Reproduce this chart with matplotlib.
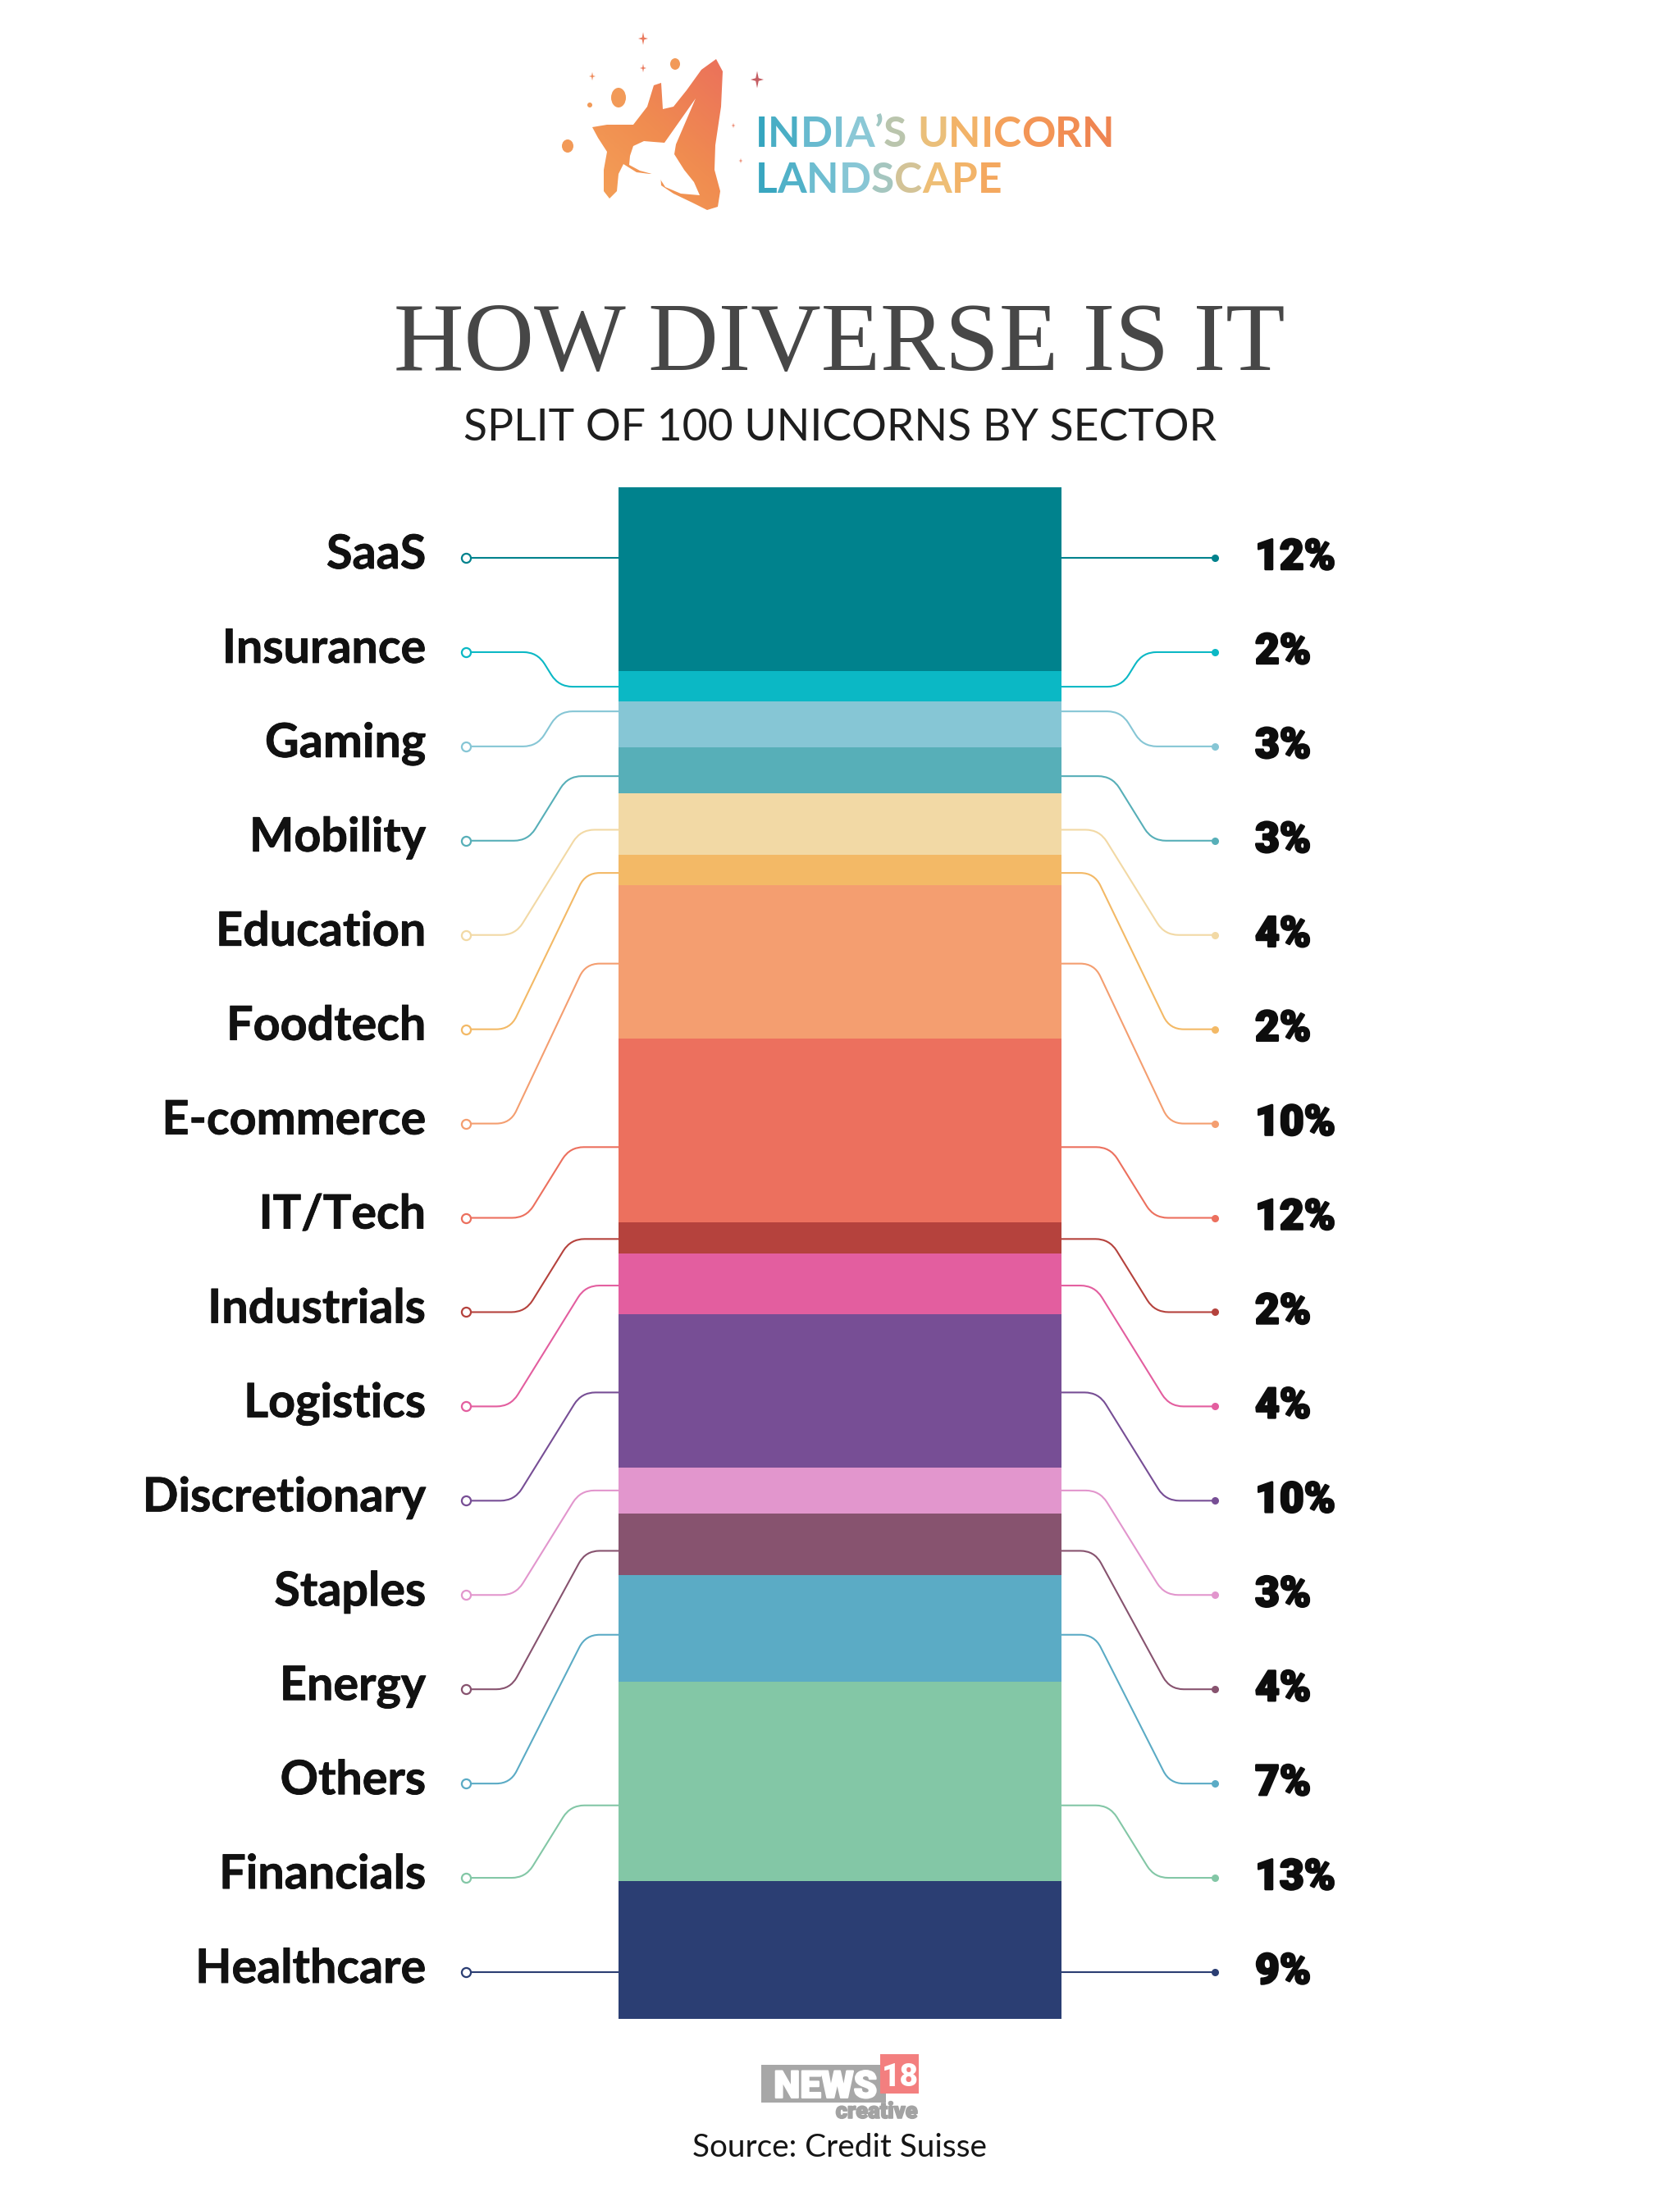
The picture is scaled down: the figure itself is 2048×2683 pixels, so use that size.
import numpy as np
import matplotlib
matplotlib.use("Agg")
import matplotlib.pyplot as plt
import matplotlib.patheffects as pe
from matplotlib.path import Path
from matplotlib.patches import PathPatch, Rectangle, Polygon, Ellipse
from matplotlib.colors import LinearSegmentedColormap, to_rgb

# ---------------- data ----------------
sectors = ["SaaS", "Insurance", "Gaming", "Mobility", "Education", "Foodtech",
           "E-commerce", "IT/Tech", "Industrials", "Logistics", "Discretionary",
           "Staples", "Energy", "Others", "Financials", "Healthcare"]
shares = [12, 2, 3, 3, 4, 2, 10, 12, 2, 4, 10, 3, 4, 7, 13, 9]
colors = ["#00828D", "#0BB8C5", "#86C6D5", "#57AFB8", "#F2D9A5", "#F3B966",
          "#F49E70", "#EC705E", "#B5423D", "#E35E9F", "#774E95", "#E296CD",
          "#87536F", "#5BABC5", "#83C7A6", "#2B3E73"]
pct_labels = [f"{v}%" for v in shares]

title = "HOW DIVERSE IS IT"
subtitle = "SPLIT OF 100 UNICORNS BY SECTOR"
brand_line1 = "INDIA\u2019S UNICORN"
brand_line2 = "LANDSCAPE"
source = "Source: Credit Suisse"

# ---------------- layout (pixels) ----------------
W, H, DPI = 2048, 2683, 100
BAR_L, BAR_R, BAR_T, BAR_B = 754, 1294, 594, 2461
DOT_L, DOT_R = 568, 1481
LAB_X, PCT_X = 519, 1529
ROW_FIRST, ROW_LAST = 680, 2404
CX_L, CX_R = 668, 1380
# where each connector meets its segment (fraction of segment height)
anchor_frac = [0.384, 0.51, 0.21, 0.62, 0.59, 0.59, 0.51, 0.59, 0.54, 0.53,
               0.51, 0.50, 0.61, 0.56, 0.62, 0.66]

fig = plt.figure(figsize=(W / DPI, H / DPI), dpi=DPI)
fig.patch.set_facecolor("white")
ax = fig.add_axes([0, 0, 1, 1])
ax.set_xlim(0, W)
ax.set_ylim(H, 0)
ax.axis("off")
renderer = fig.canvas.get_renderer()

axb = fig.add_axes([BAR_L / W, 1 - BAR_B / H, (BAR_R - BAR_L) / W, (BAR_B - BAR_T) / H])
axb.set_xlim(0, 1)
axb.set_ylim(sum(shares), 0)
axb.axis("off")
axb.patch.set_alpha(0)
bottoms = np.concatenate([[0], np.cumsum(shares)[:-1]])
axb.bar(0.5, shares, bottom=bottoms, width=1.0, color=colors,
        edgecolor="none", align="center")


def text_width(s, size, **kw):
    t = ax.text(0, 0, s, fontsize=size, **kw)
    w = t.get_window_extent(renderer).width
    t.remove()
    return w


def fit_size(s, target, **kw):
    return 50.0 * target / text_width(s, 50, **kw)


def bar_y_to_px(v):
    disp = axb.transData.transform((0.5, v))
    return ax.transData.inverted().transform(disp)[1]


def rounded_path(pts, r):
    pts = [np.asarray(p, float) for p in pts]
    verts = [pts[0]]
    codes = [Path.MOVETO]
    for i in range(1, len(pts) - 1):
        p0, p, p1 = pts[i - 1], pts[i], pts[i + 1]
        d1 = p - p0
        l1 = np.hypot(*d1)
        d2 = p1 - p
        l2 = np.hypot(*d2)
        rr = min(r, 0.45 * l1, 0.45 * l2)
        a = p - d1 / l1 * rr
        b = p + d2 / l2 * rr
        verts += [a, p, b]
        codes += [Path.LINETO, Path.CURVE3, Path.CURVE3]
    verts.append(pts[-1])
    codes.append(Path.LINETO)
    return Path(verts, codes)


def connector(xd, yd, xb, yb, cx, color):
    dy = yb - yd
    if abs(dy) < 3:
        ax.plot([xd, xb], [yd, yd], color=color, lw=1.5, solid_capstyle="butt", zorder=2)
        return
    w = min(max(0.62 * abs(dy), 24), 92)
    s = np.sign(xb - xd)
    c1 = (cx - s * w / 2, yd)
    c2 = (cx + s * w / 2, yb)
    path = rounded_path([(xd, yd), c1, c2, (xb, yb)], 17)
    ax.add_patch(PathPatch(path, facecolor="none", edgecolor=color, lw=1.5, zorder=2))


rows = np.linspace(ROW_FIRST, ROW_LAST, len(sectors))
lab_size = fit_size("Insurance", 249, family="Lato", weight="bold")
pct_size = fit_size("12%", 98, family="Roboto", weight="black")
heavy = [pe.withStroke(linewidth=1.8, foreground="#0d0d0d")]

for i, (name, val, col) in enumerate(zip(sectors, shares, colors)):
    ly = rows[i]
    yb = bar_y_to_px(bottoms[i] + anchor_frac[i] * val)
    if abs(yb - ly) < 3:
        yb = ly
    connector(DOT_L, ly, BAR_L, yb, CX_L, col)
    connector(DOT_R, ly, BAR_R, yb, CX_R, col)
    ax.plot([DOT_L], [ly], marker="o", ms=8, mfc="white", mec=col, mew=1.6, zorder=3)
    ax.plot([DOT_R], [ly], marker="o", ms=6.5, mfc=col, mec=col, mew=0, zorder=3)
    ax.text(LAB_X, ly + 13, name, ha="right", va="baseline", fontsize=lab_size,
            family="Lato", weight="bold", color="#111111",
            path_effects=[pe.withStroke(linewidth=0.6, foreground="#111111")])
    ax.text(PCT_X + 1, ly + 14, pct_labels[i], ha="left", va="baseline", fontsize=pct_size,
            family="Roboto", weight="black", color="#0d0d0d", path_effects=heavy)

# ---------------- titles ----------------
ts = fit_size(title, 1087, family="Liberation Serif")
ax.text(1023, 451, title, ha="center", va="baseline", fontsize=ts,
        family="Liberation Serif", color="#474747")
ss = fit_size(subtitle, 920, family="Lato")
ax.text(1024, 537, subtitle, ha="center", va="baseline", fontsize=ss,
        family="Lato", color="#1e1e1e")

# ---------------- brand text with gradient ----------------
grad_x = [921, 1000, 1050, 1080, 1110, 1145, 1200, 1260, 1360]
grad_c = ["#2FA2BD", "#6CBCD0", "#8CC8D6", "#A9C6BC", "#D7C393", "#F0BE72",
          "#F4AA60", "#F39656", "#EE8050"]
grad_rgb = np.array([to_rgb(c) for c in grad_c])


def grad_color(x):
    return tuple(np.interp(x, grad_x, grad_rgb[:, k]) for k in range(3))


BFONT = dict(family="Lato", weight="bold")
bs = fit_size(brand_line1, 439, **BFONT)


def gradient_text(s, x0, y0):
    bar_w = text_width("|", bs, **BFONT)
    for k, ch in enumerate(s):
        if ch == " ":
            continue
        xl = x0 + (text_width(s[:k] + "|", bs, **BFONT) - bar_w if k > 0 else 0)
        cw = text_width(ch, bs, **BFONT)
        ax.text(xl, y0, ch, ha="left", va="baseline", fontsize=bs,
                color=grad_color(xl + cw / 2), **BFONT)


gradient_text(brand_line1, 921, 179)
gradient_text(brand_line2, 921, 235)

# ---------------- splash logo ----------------
splash = [(722, 155), (740, 152), (772, 152), (789, 130), (797, 104), (806, 101),
          (808, 133), (821, 130), (837, 110), (855, 85), (873, 72), (881, 87),
          (879, 130), (872, 177), (871, 207), (878, 233), (875, 252), (862, 256),
          (844, 247), (821, 236), (806, 226), (805, 210), (792, 212), (776, 210),
          (760, 200), (754, 212), (752, 233), (743, 242), (736, 233), (736, 207),
          (740, 185), (729, 168)]
sp = Polygon(splash, closed=True, facecolor="none", edgecolor="none")
ax.add_patch(sp)
gx, gy = np.meshgrid(np.linspace(0, 1, 200), np.linspace(0, 1, 220))
tgrad = 0.45 * gx + 0.55 * (1 - gy)
cmap = LinearSegmentedColormap.from_list("splash", ["#F6A75A", "#F08C50", "#EA6A5E"])
im = ax.imshow(tgrad[::-1], extent=[690, 890, 260, 40], cmap=cmap, aspect="auto",
               origin="lower", zorder=2)
im.set_clip_path(sp)
# white unicorn head + horn
head = [(848, 120), (824, 176), (822, 188), (834, 207), (846, 222), (853, 238),
        (830, 236), (811, 228), (802, 214), (780, 208), (767, 201), (768, 190),
        (772, 178), (785, 172), (797, 173), (810, 174)]
ax.add_patch(Polygon(head, closed=True, facecolor="white", edgecolor="none", zorder=3))
for (cx, cy, rx, ry) in [(754, 119, 9, 12), (692, 178, 7, 8), (823, 78, 6, 7), (719, 128, 3, 3)]:
    ax.add_patch(Ellipse((cx, cy), 2 * rx, 2 * ry, facecolor="#F29A58", edgecolor="none", zorder=3))


def sparkle(cx, cy, s, col):
    k = 0.22 * s
    pts = [(cx, cy - 1.3 * s), (cx + k, cy - k), (cx + s, cy), (cx + k, cy + k),
           (cx, cy + 1.3 * s), (cx - k, cy + k), (cx - s, cy), (cx - k, cy - k)]
    ax.add_patch(Polygon(pts, closed=True, facecolor=col, edgecolor="none", zorder=3))


sparkle(784, 47, 6, "#EA7A5E")
sparkle(784, 83, 4, "#EA7A5E")
sparkle(722, 93, 4, "#EE8A5A")
sparkle(923, 97, 8, "#C55E63")
sparkle(894, 153, 2.5, "#EA7A5E")
sparkle(903, 196, 2.5, "#EA7A5E")

# ---------------- footer ----------------
ax.add_patch(Rectangle((928, 2517), 152, 46, facecolor="#A7A7A7", edgecolor="none"))
ax.add_patch(Rectangle((1073, 2504), 47, 48, facecolor="#F37F7F", edgecolor="none"))
ns = fit_size("NEWS", 126, family="Roboto", weight="black")
ax.text(1069, 2557, "NEWS", ha="right", va="baseline", fontsize=ns, family="Roboto",
        weight="black", color="white",
        path_effects=[pe.withStroke(linewidth=1.5, foreground="white")])
ax.text(1097, 2543, "18", ha="center", va="baseline", fontsize=ns * 0.85, family="Roboto",
        weight="black", color="white")
cs = fit_size("creative", 100, family="Roboto", weight="black")
ax.text(1119, 2582, "creative", ha="right", va="baseline", fontsize=cs, family="Roboto",
        weight="black", color="#A3A3A3",
        path_effects=[pe.withStroke(linewidth=1.2, foreground="#A3A3A3")])
srcs = fit_size(source, 358, family="Lato")
ax.text(1024, 2629, source, ha="center", va="baseline", fontsize=srcs, family="Lato",
        color="#151515")

ax.set_xlim(0, W)
ax.set_ylim(H, 0)
fig.savefig("out.png", dpi=DPI, facecolor="white")
